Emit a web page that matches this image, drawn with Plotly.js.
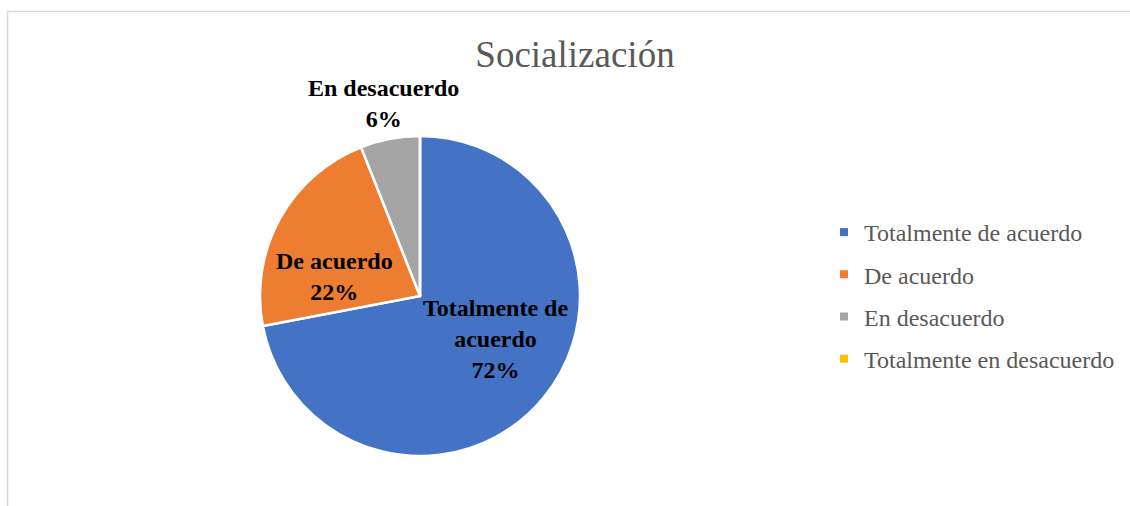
<!DOCTYPE html>
<html>
<head>
<meta charset="utf-8">
<script src="https://cdn.plot.ly/plotly-3.0.1.min.js"></script>
<style>
html,body{margin:0;padding:0;background:#fff;}
#chart{width:1130px;height:506px;}
</style>
</head>
<body>
<div id="chart"></div>
<script>
const chartTitle = "Socialización";
const categories = ["Totalmente de acuerdo", "De acuerdo", "En desacuerdo", "Totalmente en desacuerdo"];
const sliceLabels = ["Totalmente de<br>acuerdo", "De acuerdo", "En desacuerdo", "Totalmente en desacuerdo"];
const values = [72, 22, 6, 0];
const colors = ["#4472C4", "#ED7D31", "#A5A5A5", "#FFC000"];
const labelOutside = [false, false, true, false];

const W = 1130, H = 506;
const cx = 420, cy = 296, R = 160;
const serif = "Liberation Serif, Times New Roman, serif";
const total = values.reduce((a, b) => a + b, 0);

const pie = {
  type: "pie",
  labels: categories,
  values: values,
  sort: false,
  direction: "clockwise",
  rotation: 0,
  marker: {colors: colors, line: {color: "#ffffff", width: 2.5}},
  textinfo: "none",
  showlegend: false,
  hoverinfo: "label+percent",
  domain: {x: [(cx - R) / W, (cx + R) / W], y: [(H - cy - R) / H, (H - cy + R) / H]}
};

const legendTraces = categories.map((c, i) => ({
  type: "scatter",
  x: [null], y: [null],
  mode: "markers",
  name: c,
  legendgroup: "g" + i,
  marker: {symbol: "square", size: 8, color: colors[i]},
  showlegend: true,
  hoverinfo: "skip"
}));

// data labels placed from each slice's mid-angle
const annotations = [];
let cum = 0;
values.forEach((v, i) => {
  const mid = (cum + v / 2) / total * 2 * Math.PI;
  cum += v;
  if (v <= 0) return;
  let px, py;
  if (labelOutside[i]) {
    const r = R + 35;
    px = cx + r * Math.sin(mid);
    py = cy - r * Math.cos(mid) - 1;
  } else {
    px = cx + 0.61 * R * Math.sin(mid);
    py = cy - 0.35 * R * Math.cos(mid) + 7;
  }
  annotations.push({
    xref: "paper", yref: "paper",
    x: px / W, y: 1 - py / H,
    xanchor: "center", yanchor: "middle",
    text: "<b>" + sliceLabels[i] + "<br>" + Math.round(v / total * 100) + "%</b>",
    showarrow: false,
    font: {family: serif, size: 24, color: "#000000"}
  });
});

const layout = {
  width: W, height: H,
  margin: {l: 0, r: 0, t: 0, b: 0},
  paper_bgcolor: "#ffffff",
  plot_bgcolor: "rgba(0,0,0,0)",
  title: {
    text: chartTitle,
    font: {family: serif, size: 37, color: "#595959"},
    x: 575 / W, xanchor: "center", xref: "container",
    y: 1 - 54 / H, yanchor: "middle", yref: "container"
  },
  xaxis: {visible: false, domain: [0.9, 0.91]},
  yaxis: {visible: false, domain: [0.9, 0.91]},
  legend: {
    x: 824 / W, xanchor: "left",
    y: 1 - 210 / H, yanchor: "top",
    font: {family: serif, size: 24, color: "#595959"},
    traceorder: "grouped",
    tracegroupgap: 8,
    itemwidth: 30,
    bgcolor: "rgba(0,0,0,0)"
  },
  annotations: annotations,
  shapes: [{
    type: "rect", xref: "paper", yref: "paper",
    x0: 7.5 / W, x1: 1.2, y0: -0.2, y1: 1 - 11.5 / H,
    line: {color: "#d9d9d9", width: 1.5}
  }]
};

Plotly.newPlot("chart", [pie].concat(legendTraces), layout, {displayModeBar: false, staticPlot: true});
</script>
</body>
</html>
